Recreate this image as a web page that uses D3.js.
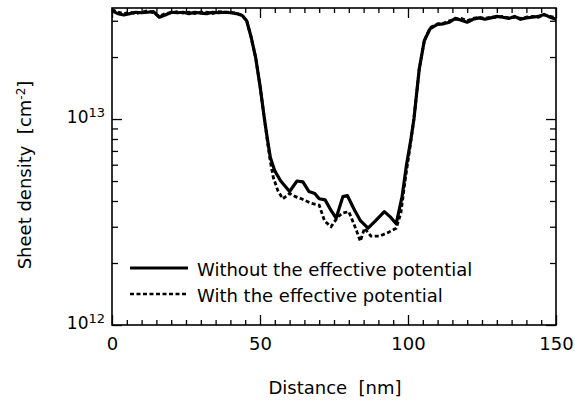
<!DOCTYPE html>
<html>
<head>
<meta charset="utf-8">
<script src="https://cdn.jsdelivr.net/npm/d3@7"></script>
<style>
	body { margin: 0; background: #fff; }
	text { font-family: 'DejaVu Sans', sans-serif; fill: #000; white-space: pre; }
</style>
</head>
<body>
<div id="chart"></div>
<script>
// Sheet density along the channel, with and without the effective potential
var withoutDist = [0, 2, 4, 6, 8, 10, 12, 14, 16, 18, 20, 22, 24, 26, 28, 30, 32, 34, 36, 38, 40, 42, 44,
	45.5, 47, 48.5, 50, 51.5, 52.5, 53.5, 55, 57, 60, 62.5, 64.5, 66.5, 68.5, 70, 72, 74, 75.7, 78, 79.5,
	82, 84, 86.5, 89, 92, 94, 96, 98, 99.5, 101, 102, 103.8, 105.5, 107.5, 110, 112, 114, 116, 118, 120,
	122, 124, 126, 128, 130, 132, 134, 136, 138, 140, 142, 144, 146, 148, 150];
var withoutDens = [3.35e13, 3.25e13, 3.2e13, 3.25e13, 3.3e13, 3.28e13, 3.3e13, 3.32e13, 3.12e13, 3.2e13,
	3.3e13, 3.28e13, 3.3e13, 3.25e13, 3.3e13, 3.27e13, 3.25e13, 3.3e13, 3.28e13, 3.3e13, 3.28e13, 3.25e13, 3.18e13,
	3.0e13, 2.5e13, 2.0e13, 1.45e13, 1.0e13, 8.0e12, 6.5e12, 5.6e12, 5.0e12, 4.45e12, 5.0e12, 4.95e12, 4.45e12,
	4.35e12, 4.1e12, 4.05e12, 3.6e12, 3.3e12, 4.2e12, 4.25e12, 3.6e12, 3.2e12, 2.95e12, 3.2e12, 3.55e12, 3.35e12,
	3.1e12, 4.2e12, 6.0e12, 8.0e12, 1.0e13, 1.75e13, 2.4e13, 2.75e13, 2.88e13, 2.9e13, 2.95e13, 3.08e13, 3.02e13,
	2.95e13, 3.05e13, 3.1e13, 3.05e13, 3.1e13, 3.15e13, 3.12e13, 3.08e13, 3.15e13, 3.05e13, 3.1e13, 3.12e13,
	3.15e13, 3.22e13, 3.12e13, 3.05e13];

var withDist = [0, 2, 4, 6, 8, 10, 12, 14, 16, 18, 20, 22, 24, 26, 28, 30, 32, 34, 36, 38, 40, 42, 44,
	45.5, 47, 48.5, 50, 51.5, 52.5, 53.5, 54.5, 56, 57.7, 60, 62, 64, 67.3, 70, 71.8, 74, 76.3, 78, 80, 82.5,
	83.9, 85.3, 87.5, 90.3, 93, 96, 97.6, 99, 100.5, 102, 103.8, 105.5, 107.5, 110, 112, 114, 116, 118, 120,
	122, 124, 126, 128, 130, 132, 134, 136, 138, 140, 142, 144, 146, 148, 150];
var withDens = [3.4e13, 3.3e13, 3.25e13, 3.3e13, 3.25e13, 3.3e13, 3.35e13, 3.28e13, 3.15e13, 3.25e13,
	3.28e13, 3.32e13, 3.27e13, 3.3e13, 3.25e13, 3.3e13, 3.3e13, 3.25e13, 3.32e13, 3.3e13, 3.3e13, 3.27e13, 3.18e13,
	3.0e13, 2.5e13, 2.0e13, 1.45e13, 1.0e13, 7.8e12, 6.2e12, 5.2e12, 4.5e12, 4.1e12, 4.35e12, 4.2e12, 4.1e12,
	3.9e12, 3.82e12, 3.2e12, 3.0e12, 3.35e12, 3.5e12, 3.55e12, 2.9e12, 2.55e12, 2.95e12, 2.7e12, 2.7e12, 2.8e12,
	2.95e12, 3.5e12, 5.0e12, 7.0e12, 1.0e13, 1.75e13, 2.4e13, 2.78e13, 2.9e13, 2.92e13, 3.0e13, 3.05e13, 3.08e13,
	3.0e13, 3.08e13, 3.12e13, 3.08e13, 3.12e13, 3.12e13, 3.15e13, 3.1e13, 3.12e13, 3.08e13, 3.12e13, 3.15e13,
	3.12e13, 3.2e13, 3.15e13, 3.1e13];

var xMajorTicks = [0, 50, 100, 150];
var yMajorExps = [12, 13];
var legendLabels = ['Without the effective potential', 'With the effective potential'];

var margin = { top: 8, right: 19, bottom: 76, left: 112 };
var width = 575 - margin.left - margin.right;
var height = 401 - margin.top - margin.bottom;

var svg = d3.select('#chart')
	.append('svg')
	.attr('width', 575)
	.attr('height', 401);

var g = svg.append('g')
	.attr('transform', 'translate(' + margin.left + ',' + margin.top + ')');

var x = d3.scaleLinear().domain([0, 150]).range([0, width]);
var y = d3.scaleLog().domain([1e12, 3.46e13]).range([height, 0]);

// minor ticks every 5 nm, and 2..9 per decade
var xMinor = d3.range(5, 150, 5).filter(d => d % 50 != 0);
var yMinor = [];
for (var e = 12; e <= 13; e++) {
	for (var m = 2; m <= 9; m++) {
		if (m * Math.pow(10, e) < 3.46e13) yMinor.push(m * Math.pow(10, e));
	}
}

function tickStyle(sel) {
	sel.select('.domain').remove();
	sel.selectAll('line').attr('stroke', '#000').attr('stroke-width', 1.3);
}

// bottom
g.append('g').attr('transform', 'translate(0,' + height + ')')
	.call(d3.axisBottom(x).tickValues(xMinor).tickSize(-5).tickFormat(''))
	.call(tickStyle);
g.append('g').attr('transform', 'translate(0,' + height + ')')
	.call(d3.axisBottom(x).tickValues(xMajorTicks).tickSize(-10).tickPadding(12).tickFormat(d3.format('d')))
	.call(tickStyle)
	.selectAll('text')
	.style('font-size', '18px')
	.style('font-family', "'DejaVu Sans', sans-serif");
// top
g.append('g')
	.call(d3.axisTop(x).tickValues(xMinor).tickSize(-5).tickFormat(''))
	.call(tickStyle);
g.append('g')
	.call(d3.axisTop(x).tickValues(xMajorTicks).tickSize(-10).tickFormat(''))
	.call(tickStyle);
// left
g.append('g')
	.call(d3.axisLeft(y).tickValues(yMinor).tickSize(-6).tickFormat(''))
	.call(tickStyle);
g.append('g')
	.call(d3.axisLeft(y).tickValues(yMajorExps.map(d => Math.pow(10, d))).tickSize(-10).tickFormat(''))
	.call(tickStyle);
// right
g.append('g').attr('transform', 'translate(' + width + ',0)')
	.call(d3.axisRight(y).tickValues(yMinor).tickSize(-6).tickFormat(''))
	.call(tickStyle);
g.append('g').attr('transform', 'translate(' + width + ',0)')
	.call(d3.axisRight(y).tickValues(yMajorExps.map(d => Math.pow(10, d))).tickSize(-10).tickFormat(''))
	.call(tickStyle);

// y labels as 10^n
var yLab = g.selectAll('.ylab')
	.data(yMajorExps)
	.enter()
	.append('text')
	.attr('class', 'ylab')
	.attr('x', -7)
	.attr('y', d => y(Math.pow(10, d)) + 4)
	.attr('text-anchor', 'end')
	.style('font-size', '17px');
yLab.append('tspan').text('10');
yLab.append('tspan')
	.attr('dy', '-0.5em')
	.style('font-size', '13px')
	.text(d => d);

// frame
g.append('rect')
	.attr('width', width)
	.attr('height', height)
	.attr('fill', 'none')
	.attr('stroke', '#000')
	.attr('stroke-width', 1.6);

var line = d3.line()
	.x(d => x(d[0]))
	.y(d => y(d[1]));

g.append('path')
	.datum(d3.zip(withDist, withDens))
	.attr('d', line)
	.attr('fill', 'none')
	.attr('stroke', '#000')
	.attr('stroke-width', 2.8)
	.attr('stroke-dasharray', '4,2.5');

g.append('path')
	.datum(d3.zip(withoutDist, withoutDens))
	.attr('d', line)
	.attr('fill', 'none')
	.attr('stroke', '#000')
	.attr('stroke-width', 3.2)
	.attr('stroke-linejoin', 'round');

// legend
var legend = g.selectAll('.legend')
	.data(legendLabels)
	.enter()
	.append('g')
	.attr('class', 'legend')
	.attr('transform', (d, i) => 'translate(18,' + (260 + i * 26) + ')');

legend.append('line')
	.attr('x1', 0)
	.attr('x2', 58)
	.attr('stroke', '#000')
	.attr('stroke-width', (d, i) => i == 0 ? 3.2 : 2.6)
	.attr('stroke-dasharray', (d, i) => i == 0 ? null : '4,2.5');

legend.append('text')
	.attr('x', 67)
	.attr('y', 7.5)
	.style('font-size', '18px')
	.text(d => d);

// axis titles
svg.append('text')
	.attr('x', margin.left + width / 2 + 1)
	.attr('y', 394)
	.attr('text-anchor', 'middle')
	.style('font-size', '18px')
	.text('Distance  [nm]');

var yTitle = svg.append('text')
	.attr('transform', 'translate(31,175) rotate(-90)')
	.attr('text-anchor', 'middle')
	.style('font-size', '18px');
yTitle.append('tspan').text('Sheet density  [cm');
yTitle.append('tspan').attr('dy', '-0.5em').style('font-size', '12px').text('-2');
yTitle.append('tspan').attr('dy', '0.35em').text(']');
</script>
</body>
</html>
